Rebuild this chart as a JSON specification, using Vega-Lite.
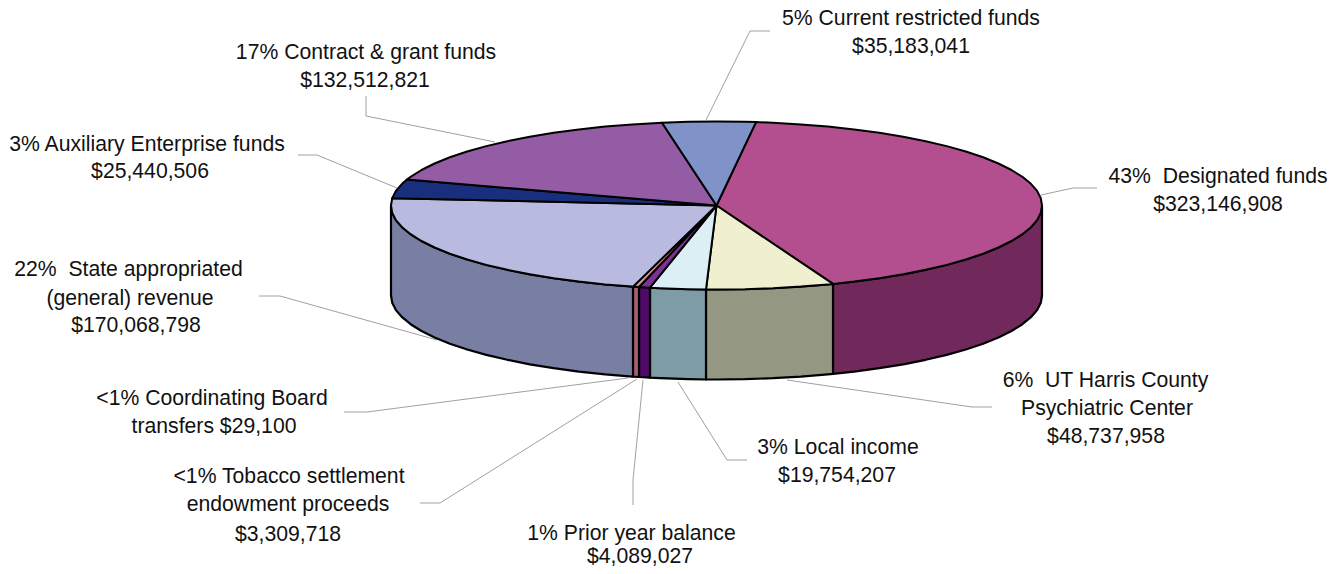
{"$schema":"https://vega.github.io/schema/vega-lite/v6.json","width":1340,"height":574,"autosize":{"type":"fit","contains":"padding"},"padding":0,"background":"white","config":{"view":{"stroke":null}},
"datasets":{
"sides":[
{"p":"Designated side","i":1,"x":1042,"y":205.5},{"p":"Designated side","i":2,"x":1040.8,"y":212.8},{"p":"Designated side","i":3,"x":1037.1,"y":220.1},{"p":"Designated side","i":4,"x":1030.9,"y":227.2},{"p":"Designated side","i":5,"x":1022.4,"y":234.2},{"p":"Designated side","i":6,"x":1011.5,"y":241},{"p":"Designated side","i":7,"x":998.4,"y":247.5},{"p":"Designated side","i":8,"x":983.1,"y":253.7},{"p":"Designated side","i":9,"x":965.8,"y":259.5},{"p":"Designated side","i":10,"x":946.7,"y":264.9},{"p":"Designated side","i":11,"x":925.7,"y":269.8},{"p":"Designated side","i":12,"x":903.2,"y":274.3},{"p":"Designated side","i":13,"x":879.3,"y":278.2},{"p":"Designated side","i":14,"x":854.1,"y":281.6},{"p":"Designated side","i":15,"x":833,"y":283.9},{"p":"Designated side","i":16,"x":833,"y":373.9},{"p":"Designated side","i":17,"x":854.1,"y":371.6},{"p":"Designated side","i":18,"x":879.3,"y":368.2},{"p":"Designated side","i":19,"x":903.2,"y":364.3},{"p":"Designated side","i":20,"x":925.7,"y":359.8},{"p":"Designated side","i":21,"x":946.7,"y":354.9},{"p":"Designated side","i":22,"x":965.8,"y":349.5},{"p":"Designated side","i":23,"x":983.1,"y":343.7},{"p":"Designated side","i":24,"x":998.4,"y":337.5},{"p":"Designated side","i":25,"x":1011.5,"y":331},{"p":"Designated side","i":26,"x":1022.4,"y":324.2},{"p":"Designated side","i":27,"x":1030.9,"y":317.2},{"p":"Designated side","i":28,"x":1037.1,"y":310.1},{"p":"Designated side","i":29,"x":1040.8,"y":302.8},{"p":"Designated side","i":30,"x":1042,"y":295.5},{"p":"Designated side","i":31,"x":1042,"y":205.5},
{"p":"UT Harris side","i":1,"x":833,"y":283.9},{"p":"UT Harris side","i":2,"x":827.8,"y":284.4},{"p":"UT Harris side","i":3,"x":800.7,"y":286.6},{"p":"UT Harris side","i":4,"x":773,"y":288.2},{"p":"UT Harris side","i":5,"x":744.9,"y":289.2},{"p":"UT Harris side","i":6,"x":716.5,"y":289.5},{"p":"UT Harris side","i":7,"x":706,"y":289.5},{"p":"UT Harris side","i":8,"x":706,"y":379.5},{"p":"UT Harris side","i":9,"x":716.5,"y":379.5},{"p":"UT Harris side","i":10,"x":744.9,"y":379.2},{"p":"UT Harris side","i":11,"x":773,"y":378.2},{"p":"UT Harris side","i":12,"x":800.7,"y":376.6},{"p":"UT Harris side","i":13,"x":827.8,"y":374.4},{"p":"UT Harris side","i":14,"x":833,"y":373.9},{"p":"UT Harris side","i":15,"x":833,"y":283.9},
{"p":"Local side","i":1,"x":706,"y":289.5},{"p":"Local side","i":2,"x":688.1,"y":289.2},{"p":"Local side","i":3,"x":660,"y":288.2},{"p":"Local side","i":4,"x":650,"y":287.7},{"p":"Local side","i":5,"x":650,"y":377.7},{"p":"Local side","i":6,"x":660,"y":378.2},{"p":"Local side","i":7,"x":688.1,"y":379.2},{"p":"Local side","i":8,"x":706,"y":379.5},{"p":"Local side","i":9,"x":706,"y":289.5},
{"p":"Prior side","i":1,"x":650,"y":287.7},{"p":"Prior side","i":2,"x":639,"y":287},{"p":"Prior side","i":3,"x":639,"y":377},{"p":"Prior side","i":4,"x":650,"y":377.7},{"p":"Prior side","i":5,"x":650,"y":287.7},
{"p":"Tobacco side","i":1,"x":639,"y":287},{"p":"Tobacco side","i":2,"x":633,"y":286.6},{"p":"Tobacco side","i":3,"x":633,"y":376.6},{"p":"Tobacco side","i":4,"x":639,"y":377},{"p":"Tobacco side","i":5,"x":639,"y":287},
{"p":"State side","i":1,"x":633,"y":286.6},{"p":"State side","i":2,"x":632.3,"y":286.6},{"p":"State side","i":3,"x":605.2,"y":284.4},{"p":"State side","i":4,"x":578.9,"y":281.6},{"p":"State side","i":5,"x":553.7,"y":278.2},{"p":"State side","i":6,"x":529.8,"y":274.3},{"p":"State side","i":7,"x":507.3,"y":269.8},{"p":"State side","i":8,"x":486.3,"y":264.9},{"p":"State side","i":9,"x":467.2,"y":259.5},{"p":"State side","i":10,"x":449.9,"y":253.7},{"p":"State side","i":11,"x":434.6,"y":247.5},{"p":"State side","i":12,"x":421.5,"y":241},{"p":"State side","i":13,"x":410.6,"y":234.2},{"p":"State side","i":14,"x":402.1,"y":227.2},{"p":"State side","i":15,"x":395.9,"y":220.1},{"p":"State side","i":16,"x":392.2,"y":212.8},{"p":"State side","i":17,"x":391,"y":205.5},{"p":"State side","i":18,"x":391,"y":295.5},{"p":"State side","i":19,"x":392.2,"y":302.8},{"p":"State side","i":20,"x":395.9,"y":310.1},{"p":"State side","i":21,"x":402.1,"y":317.2},{"p":"State side","i":22,"x":410.6,"y":324.2},{"p":"State side","i":23,"x":421.5,"y":331},{"p":"State side","i":24,"x":434.6,"y":337.5},{"p":"State side","i":25,"x":449.9,"y":343.7},{"p":"State side","i":26,"x":467.2,"y":349.5},{"p":"State side","i":27,"x":486.3,"y":354.9},{"p":"State side","i":28,"x":507.3,"y":359.8},{"p":"State side","i":29,"x":529.8,"y":364.3},{"p":"State side","i":30,"x":553.7,"y":368.2},{"p":"State side","i":31,"x":578.9,"y":371.6},{"p":"State side","i":32,"x":605.2,"y":374.4},{"p":"State side","i":33,"x":632.3,"y":376.6},{"p":"State side","i":34,"x":633,"y":376.6},{"p":"State side","i":35,"x":633,"y":286.6}
],
"tops":[
{"p":"Designated","i":1,"x":716.5,"y":205.5},{"p":"Designated","i":2,"x":756,"y":122.1},{"p":"Designated","i":3,"x":773,"y":122.8},{"p":"Designated","i":4,"x":800.7,"y":124.4},{"p":"Designated","i":5,"x":827.8,"y":126.6},{"p":"Designated","i":6,"x":854.1,"y":129.4},{"p":"Designated","i":7,"x":879.3,"y":132.8},{"p":"Designated","i":8,"x":903.2,"y":136.7},{"p":"Designated","i":9,"x":925.7,"y":141.2},{"p":"Designated","i":10,"x":946.7,"y":146.1},{"p":"Designated","i":11,"x":965.8,"y":151.5},{"p":"Designated","i":12,"x":983.1,"y":157.3},{"p":"Designated","i":13,"x":998.4,"y":163.5},{"p":"Designated","i":14,"x":1011.5,"y":170},{"p":"Designated","i":15,"x":1022.4,"y":176.8},{"p":"Designated","i":16,"x":1030.9,"y":183.8},{"p":"Designated","i":17,"x":1037.1,"y":190.9},{"p":"Designated","i":18,"x":1040.8,"y":198.2},{"p":"Designated","i":19,"x":1042,"y":205.5},{"p":"Designated","i":20,"x":1040.8,"y":212.8},{"p":"Designated","i":21,"x":1037.1,"y":220.1},{"p":"Designated","i":22,"x":1030.9,"y":227.2},{"p":"Designated","i":23,"x":1022.4,"y":234.2},{"p":"Designated","i":24,"x":1011.5,"y":241},{"p":"Designated","i":25,"x":998.4,"y":247.5},{"p":"Designated","i":26,"x":983.1,"y":253.7},{"p":"Designated","i":27,"x":965.8,"y":259.5},{"p":"Designated","i":28,"x":946.7,"y":264.9},{"p":"Designated","i":29,"x":925.7,"y":269.8},{"p":"Designated","i":30,"x":903.2,"y":274.3},{"p":"Designated","i":31,"x":879.3,"y":278.2},{"p":"Designated","i":32,"x":854.1,"y":281.6},{"p":"Designated","i":33,"x":833,"y":283.9},{"p":"Designated","i":34,"x":716.5,"y":205.5},
{"p":"UT Harris","i":1,"x":716.5,"y":205.5},{"p":"UT Harris","i":2,"x":833,"y":283.9},{"p":"UT Harris","i":3,"x":827.8,"y":284.4},{"p":"UT Harris","i":4,"x":800.7,"y":286.6},{"p":"UT Harris","i":5,"x":773,"y":288.2},{"p":"UT Harris","i":6,"x":744.9,"y":289.2},{"p":"UT Harris","i":7,"x":716.5,"y":289.5},{"p":"UT Harris","i":8,"x":706,"y":289.5},{"p":"UT Harris","i":9,"x":716.5,"y":205.5},
{"p":"Local","i":1,"x":716.5,"y":205.5},{"p":"Local","i":2,"x":706,"y":289.5},{"p":"Local","i":3,"x":688.1,"y":289.2},{"p":"Local","i":4,"x":660,"y":288.2},{"p":"Local","i":5,"x":650,"y":287.7},{"p":"Local","i":6,"x":716.5,"y":205.5},
{"p":"Prior","i":1,"x":716.5,"y":205.5},{"p":"Prior","i":2,"x":650,"y":287.7},{"p":"Prior","i":3,"x":639,"y":287},{"p":"Prior","i":4,"x":716.5,"y":205.5},
{"p":"Tobacco","i":1,"x":716.5,"y":205.5},{"p":"Tobacco","i":2,"x":639,"y":287},{"p":"Tobacco","i":3,"x":633,"y":286.6},{"p":"Tobacco","i":4,"x":716.5,"y":205.5},
{"p":"State","i":1,"x":716.5,"y":205.5},{"p":"State","i":2,"x":633,"y":286.6},{"p":"State","i":3,"x":632.3,"y":286.6},{"p":"State","i":4,"x":605.2,"y":284.4},{"p":"State","i":5,"x":578.9,"y":281.6},{"p":"State","i":6,"x":553.7,"y":278.2},{"p":"State","i":7,"x":529.8,"y":274.3},{"p":"State","i":8,"x":507.3,"y":269.8},{"p":"State","i":9,"x":486.3,"y":264.9},{"p":"State","i":10,"x":467.2,"y":259.5},{"p":"State","i":11,"x":449.9,"y":253.7},{"p":"State","i":12,"x":434.6,"y":247.5},{"p":"State","i":13,"x":421.5,"y":241},{"p":"State","i":14,"x":410.6,"y":234.2},{"p":"State","i":15,"x":402.1,"y":227.2},{"p":"State","i":16,"x":395.9,"y":220.1},{"p":"State","i":17,"x":392.2,"y":212.8},{"p":"State","i":18,"x":391,"y":205.5},{"p":"State","i":19,"x":392.2,"y":198.2},{"p":"State","i":20,"x":716.5,"y":205.5},
{"p":"Auxiliary","i":1,"x":716.5,"y":205.5},{"p":"Auxiliary","i":2,"x":392.2,"y":198.2},{"p":"Auxiliary","i":3,"x":395.9,"y":190.9},{"p":"Auxiliary","i":4,"x":402.1,"y":183.8},{"p":"Auxiliary","i":5,"x":407,"y":179.5},{"p":"Auxiliary","i":6,"x":716.5,"y":205.5},
{"p":"Contract","i":1,"x":716.5,"y":205.5},{"p":"Contract","i":2,"x":407,"y":179.5},{"p":"Contract","i":3,"x":410.6,"y":176.8},{"p":"Contract","i":4,"x":421.5,"y":170},{"p":"Contract","i":5,"x":434.6,"y":163.5},{"p":"Contract","i":6,"x":449.9,"y":157.3},{"p":"Contract","i":7,"x":467.2,"y":151.5},{"p":"Contract","i":8,"x":486.3,"y":146.1},{"p":"Contract","i":9,"x":507.3,"y":141.2},{"p":"Contract","i":10,"x":529.8,"y":136.7},{"p":"Contract","i":11,"x":553.7,"y":132.8},{"p":"Contract","i":12,"x":578.9,"y":129.4},{"p":"Contract","i":13,"x":605.2,"y":126.6},{"p":"Contract","i":14,"x":632.3,"y":124.4},{"p":"Contract","i":15,"x":662,"y":122.7},{"p":"Contract","i":16,"x":716.5,"y":205.5},
{"p":"Current","i":1,"x":716.5,"y":205.5},{"p":"Current","i":2,"x":662,"y":122.7},{"p":"Current","i":3,"x":688.1,"y":121.8},{"p":"Current","i":4,"x":716.5,"y":121.5},{"p":"Current","i":5,"x":744.9,"y":121.8},{"p":"Current","i":6,"x":756,"y":122.1},{"p":"Current","i":7,"x":716.5,"y":205.5}
],
"leaders":[
{"k":"Current","i":1,"x":706,"y":120},{"k":"Current","i":2,"x":750,"y":31},{"k":"Current","i":3,"x":770,"y":31},
{"k":"Contract","i":1,"x":495,"y":142},{"k":"Contract","i":2,"x":366,"y":116},{"k":"Contract","i":3,"x":366,"y":96},
{"k":"Auxiliary","i":1,"x":397,"y":188},{"k":"Auxiliary","i":2,"x":317,"y":155},{"k":"Auxiliary","i":3,"x":298,"y":155},
{"k":"Designated","i":1,"x":1041,"y":195},{"k":"Designated","i":2,"x":1073,"y":188},{"k":"Designated","i":3,"x":1097,"y":188},
{"k":"State","i":1,"x":437,"y":340},{"k":"State","i":2,"x":280,"y":296},{"k":"State","i":3,"x":259,"y":296},
{"k":"Coordinating","i":1,"x":628,"y":378},{"k":"Coordinating","i":2,"x":367,"y":412},{"k":"Coordinating","i":3,"x":344,"y":412},
{"k":"Tobacco","i":1,"x":637,"y":379},{"k":"Tobacco","i":2,"x":440,"y":503},{"k":"Tobacco","i":3,"x":420,"y":503},
{"k":"Prior","i":1,"x":643,"y":380},{"k":"Prior","i":2,"x":633,"y":480},{"k":"Prior","i":3,"x":633,"y":505},
{"k":"Local","i":1,"x":678,"y":382},{"k":"Local","i":2,"x":727,"y":460},{"k":"Local","i":3,"x":747,"y":460},
{"k":"UT Harris","i":1,"x":787,"y":380},{"k":"UT Harris","i":2,"x":972,"y":407},{"k":"UT Harris","i":3,"x":992,"y":407}
],
"labels":[
{"t":"5% Current restricted funds","x":911,"y":25},{"t":"$35,183,041","x":911,"y":53},
{"t":"17% Contract & grant funds","x":366,"y":59},{"t":"$132,512,821","x":365,"y":87},
{"t":"3% Auxiliary Enterprise funds","x":147,"y":151},{"t":"$25,440,506","x":150,"y":178},
{"t":"43%\u00a0\u00a0Designated funds","x":1218,"y":183},{"t":"$323,146,908","x":1218,"y":211},
{"t":"22%\u00a0\u00a0State appropriated","x":128.5,"y":276},{"t":"(general) revenue","x":130,"y":305},{"t":"$170,068,798","x":136,"y":332},
{"t":"6%\u00a0\u00a0UT Harris County","x":1105.5,"y":387},{"t":"Psychiatric Center","x":1107,"y":415},{"t":"$48,737,958","x":1106,"y":443},
{"t":"3% Local income","x":838,"y":454},{"t":"$19,754,207","x":837,"y":482},
{"t":"<1% Coordinating Board","x":212,"y":405},{"t":"transfers $29,100","x":214,"y":433},
{"t":"<1% Tobacco settlement","x":289,"y":483},{"t":"endowment proceeds","x":288,"y":511},{"t":"$3,309,718","x":288,"y":541},
{"t":"1% Prior year balance","x":631.5,"y":540},{"t":"$4,089,027","x":640,"y":563}
]
},
"layer":[
{"data":{"name":"leaders"},"mark":{"type":"line","stroke":"#a0a0a0","strokeWidth":1},"encoding":{"x":{"field":"x","type":"quantitative","scale":{"domain":[0,1340],"nice":false,"zero":false},"axis":null},"y":{"field":"y","type":"quantitative","scale":{"domain":[574,0],"nice":false,"zero":false},"axis":null},"detail":{"field":"k"},"order":{"field":"i"}}},
{"data":{"name":"sides"},"mark":{"type":"line","stroke":"black","strokeWidth":2.2,"strokeJoin":"round"},"encoding":{"x":{"field":"x","type":"quantitative","axis":null},"y":{"field":"y","type":"quantitative","axis":null},"detail":{"field":"p"},"order":{"field":"i"},"fill":{"field":"p","type":"nominal","legend":null,"scale":{"domain":["Designated side","UT Harris side","Local side","Prior side","Tobacco side","State side","Designated","UT Harris","Local","Prior","Tobacco","State","Auxiliary","Contract","Current"],"range":["#70295A","#949883","#7E9CA5","#4E0A66","#A86070","#797EA3","#B44F8F","#F0F0D0","#DCEFF5","#7B3294","#E09090","#B8BBDF","#1A2E7E","#945CA5","#8093C8"]}}}},
{"data":{"name":"tops"},"mark":{"type":"line","stroke":"black","strokeWidth":2,"strokeJoin":"round"},"encoding":{"x":{"field":"x","type":"quantitative","axis":null},"y":{"field":"y","type":"quantitative","axis":null},"detail":{"field":"p"},"order":{"field":"i"},"fill":{"field":"p","type":"nominal","legend":null}}},
{"data":{"name":"labels"},"mark":{"type":"text","font":"Liberation Sans","fontSize":21.2,"fill":"#111111","align":"center","baseline":"alphabetic"},"encoding":{"x":{"field":"x","type":"quantitative","axis":null},"y":{"field":"y","type":"quantitative","axis":null},"text":{"field":"t"}}}
]}
